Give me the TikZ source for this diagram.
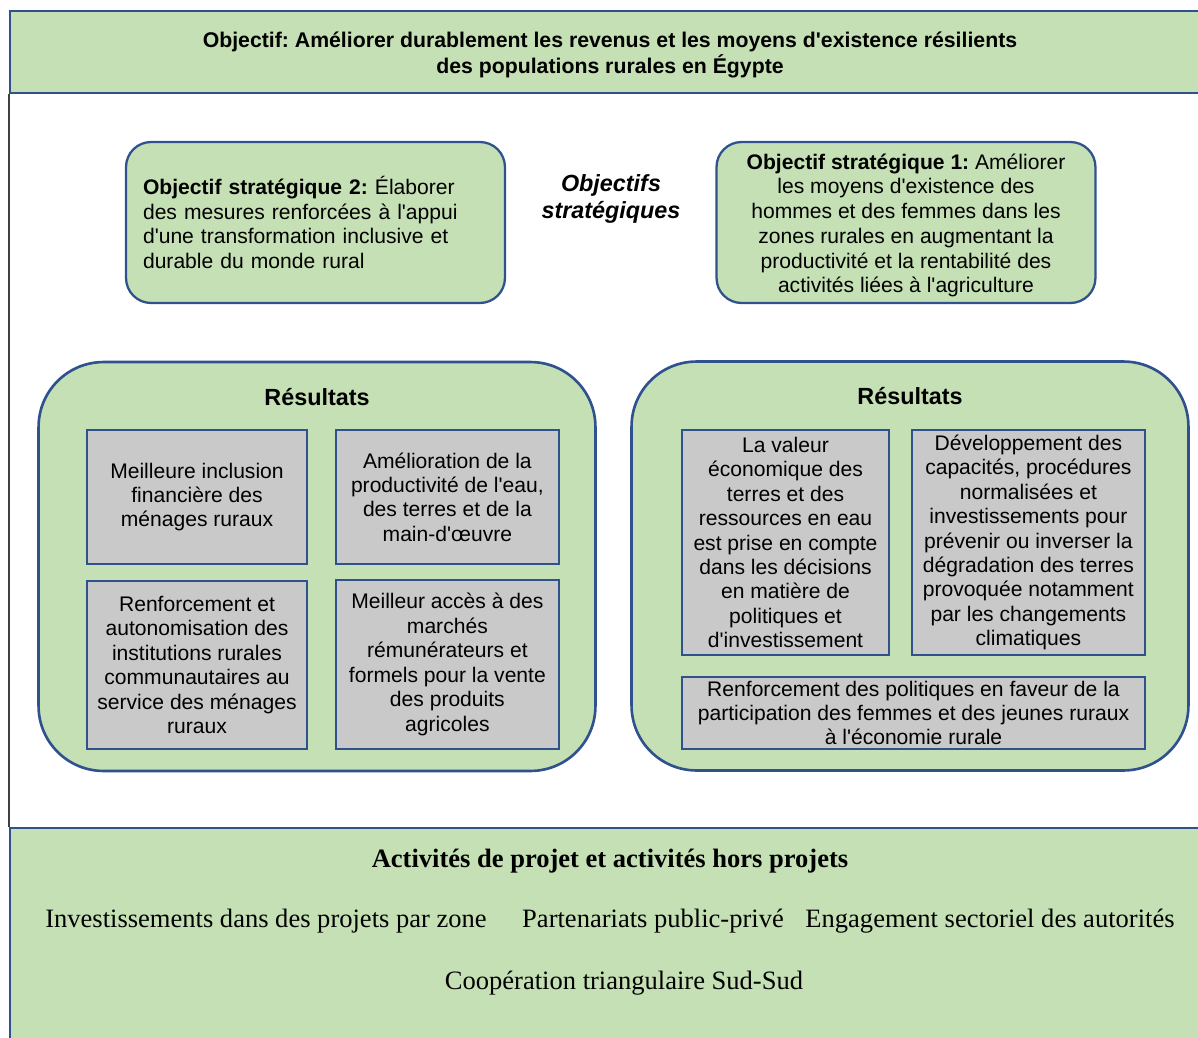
\documentclass[tikz,border=0pt]{standalone}
\usepackage{fontspec}
\setmainfont{Liberation Serif}
\setsansfont{Liberation Sans}[Ligatures=TeXOff]
\usetikzlibrary{positioning}
\frenchspacing

\definecolor{leaf}{HTML}{C5E0B4}
\definecolor{ink}{HTML}{2F528F}
\definecolor{stone}{HTML}{C9C9C9}

\begin{document}
\begin{tikzpicture}[x=0.02cm,y=-0.02cm,
  banner/.style={draw=ink,line width=1.5pt,fill=leaf,minimum width=24cm,inner sep=0pt},
  goal/.style={draw=ink,line width=1.3pt,fill=leaf,rounded corners=0.5cm,
    minimum width=7.58cm,minimum height=3.22cm,inner sep=0pt,
    font=\sffamily\fontsize{12}{14.1}\selectfont},
  group/.style={draw=ink,line width=1.5pt,fill=leaf,rounded corners=1.3cm,
    minimum width=11.14cm,minimum height=8.18cm},
  result/.style={draw=ink,line width=1.1pt,fill=stone,inner sep=0pt,align=center,
    font=\sffamily\fontsize{12}{13.9}\selectfont},
  head/.style={font=\sffamily\bfseries\fontsize{13.3}{15.3}\selectfont},
  activity/.style={font=\rmfamily\fontsize{15.1}{18}\selectfont}]
  \useasboundingbox (0,0) rectangle (1198,1038);

  \node[banner,minimum height=1.64cm] (aim) at (610,52) {};
  \node[align=center,font=\sffamily\bfseries\fontsize{12.1}{14.7}\selectfont] (aimText) at (610,55)
    {Objectif: Améliorer durablement les revenus et les moyens d'existence résilients\\
     des populations rurales en Égypte};
  \node[banner,minimum height=4.4cm] (acts) at (610,938) {};
  \draw[draw=black!75,line width=1.1pt] (aim.south west) -- (acts.north west);

  \node[goal,align=left,text width=6.9cm] (sog2) at (315.5,222.5)
    {\textbf{Objectif stratégique 2:} Élaborer\\
     des mesures renforcées à l'appui\\
     d'une transformation inclusive et\\
     durable du monde rural};
  \node[goal,align=center] (sog1) at (906,222.5)
    {\rule{0pt}{12.2pt}\textbf{Objectif stratégique 1:} Améliorer\\
     les moyens d'existence des\\
     hommes et des femmes dans les\\
     zones rurales en augmentant la\\
     productivité et la rentabilité des\\
     activités liées à l'agriculture};
  \node[head,font=\sffamily\bfseries\itshape\fontsize{13.3}{15.3}\selectfont,align=center]
    (sogs) at (611,199) {Objectifs\\stratégiques};

  \node[group] (resL) at (317,566.5) {};
  \node[group] (resR) at (910,566) {};
  \node[head] (resLhead) at (317,397) {Résultats};
  \node[head] (resRhead) at (910,396) {Résultats};

  \node[result,minimum width=4.4cm,minimum height=2.68cm] (incl) at (197,497)
    {Meilleure inclusion\\financière des\\ménages ruraux};
  \node[result,minimum width=4.46cm,minimum height=2.68cm] (prod) [right=0.54cm of incl]
    {Amélioration de la\\productivité de l'eau,\\des terres et de la\\main-d'œuvre};
  \node[result,minimum width=4.4cm,minimum height=3.36cm] (inst) [below=0.3cm of incl]
    {Renforcement et\\autonomisation des\\institutions rurales\\communautaires au\\service des ménages\\ruraux};
  \node[result,minimum width=4.46cm,minimum height=3.38cm] (mkt) [below=0.28cm of prod]
    {Meilleur accès à des\\marchés\\rémunérateurs et\\formels pour la vente\\des produits\\agricoles};

  \node[result,minimum width=4.14cm,minimum height=4.5cm] (land) at (785.5,542.5)
    {La valeur\\économique des\\terres et des\\ressources en eau\\est prise en compte\\dans les décisions\\en matière de\\politiques et\\d'investissement};
  \node[result,minimum width=4.66cm,minimum height=4.5cm] (degr) [right=0.42cm of land]
    {Développement des\\capacités, procédures\\normalisées et\\investissements pour\\prévenir ou inverser la\\dégradation des terres\\provoquée notamment\\par les changements\\climatiques};
  \node[result,minimum width=9.26cm,minimum height=1.44cm] (youth) at (913.5,713)
    {Renforcement des politiques en faveur de la\\participation des femmes et des jeunes ruraux\\à l'économie rurale};

  \node[activity,font=\rmfamily\bfseries\fontsize{15.1}{18}\selectfont] (actsHead) at (610,861)
    {Activités de projet et activités hors projets};
  \node[activity] (zone) at (266,921) {Investissements dans des projets par zone};
  \node[activity] (ppp) at (653,921) {Partenariats public-privé};
  \node[activity] (auth) at (990,921) {Engagement sectoriel des autorités};
  \node[activity] (south) at (624,983) {Coopération triangulaire Sud-Sud};
\end{tikzpicture}
\end{document}
